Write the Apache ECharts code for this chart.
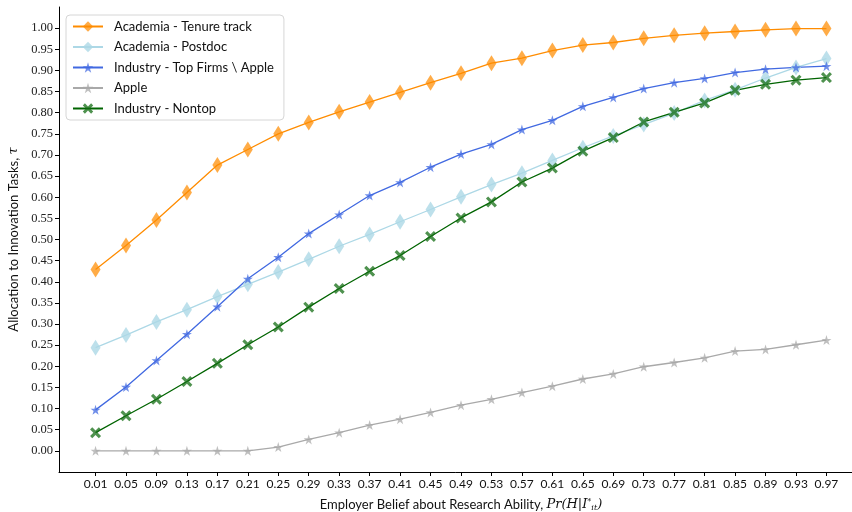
<!DOCTYPE html>
<html>
<head>
<meta charset="utf-8">
<script src="https://cdn.jsdelivr.net/npm/echarts@6/dist/echarts.min.js"></script>
<style>html,body{margin:0;padding:0;background:#fff}#c{width:852px;height:512px}</style>
</head>
<body>
<div id="c"></div>
<script>
const beliefs = [0.01,0.05,0.09,0.13,0.17,0.21,0.25,0.29,0.33,0.37,0.41,0.45,0.49,0.53,0.57,0.61,0.65,0.69,0.73,0.77,0.81,0.85,0.89,0.93,0.97];
const tenureTrack = [0.429,0.486,0.546,0.611,0.676,0.713,0.750,0.777,0.802,0.825,0.848,0.871,0.893,0.917,0.929,0.947,0.960,0.966,0.976,0.983,0.988,0.992,0.996,0.999,0.999];
const postdoc = [0.244,0.274,0.305,0.334,0.365,0.394,0.423,0.453,0.484,0.512,0.542,0.571,0.601,0.630,0.657,0.687,0.717,0.745,0.772,0.799,0.829,0.854,0.882,0.907,0.928];
const topFirms = [0.097,0.151,0.214,0.276,0.341,0.407,0.458,0.514,0.559,0.604,0.635,0.671,0.702,0.725,0.760,0.782,0.815,0.836,0.857,0.871,0.881,0.895,0.903,0.907,0.910];
const apple = [0,0,0,0,0,0,0.009,0.027,0.043,0.061,0.075,0.091,0.108,0.122,0.138,0.153,0.170,0.182,0.199,0.209,0.220,0.236,0.240,0.251,0.262];
const nontop = [0.043,0.083,0.122,0.164,0.207,0.251,0.293,0.340,0.384,0.425,0.462,0.507,0.551,0.589,0.636,0.669,0.709,0.741,0.778,0.801,0.823,0.853,0.867,0.877,0.883];
const xTickLabels = [0.01,0.05,0.09,0.13,0.17,0.21,0.25,0.29,0.33,0.37,0.41,0.45,0.49,0.53,0.57,0.61,0.65,0.69,0.73,0.77,0.81,0.85,0.89,0.93,0.97];
const yTickLabels = [0,0.05,0.10,0.15,0.20,0.25,0.30,0.35,0.40,0.45,0.50,0.55,0.60,0.65,0.70,0.75,0.80,0.85,0.90,0.95,1.00];

const STAR = 'path://M100,0 L122.45,69.1 L195.1,69.1 L136.3,111.8 L158.8,180.9 L100,138.2 L41.2,180.9 L63.7,111.8 L4.9,69.1 L77.55,69.1 Z';
const XMARK = 'path://M20,0 L50,30 L80,0 L100,20 L70,50 L100,80 L80,100 L50,70 L20,100 L0,80 L30,50 L0,20 Z';

function pairs(arr){ return beliefs.map((b,i)=>[b, arr[i]]); }

function mk(name, data, lineColor, markColor, symbol, size){
  return {
    name, type:'line', data: pairs(data),
    symbol, symbolSize: size, showSymbol:true,
    lineStyle:{color:lineColor, width:1.3},
    itemStyle:{color:markColor, borderWidth:0},
    emphasis:{disabled:true},
    animation:false
  };
}

const chart = echarts.init(document.getElementById('c'));
chart.setOption({
  backgroundColor:'#fff',
  animation:false,
  grid:{left:59, top:7, width:804, height:465, containLabel:false, outerBoundsMode:'none'},
  legend:{
    orient:'vertical', left:66, top:15,
    padding:[5,10,5,6],
    itemWidth:30, itemHeight:13, itemGap:7.5,
    backgroundColor:'rgba(255,255,255,0.85)',
    borderColor:'#d6d6d6', borderWidth:1, borderRadius:4,
    textStyle:{fontFamily:'Lato', fontSize:13, color:'#111', padding:[0,0,0,6]},
    data:['Academia - Tenure track','Academia - Postdoc','Industry - Top Firms \\ Apple','Apple','Industry - Nontop']
  },
  xAxis:{
    type:'value', min:-0.038, max:1.018,
    axisLine:{onZero:false, lineStyle:{color:'#000', width:1}},
    axisTick:{show:true, length:4, lineStyle:{color:'#000'}, customValues:xTickLabels},
    axisLabel:{customValues:xTickLabels, formatter:v=>v.toFixed(2), fontFamily:'Lato', fontSize:12, color:'#111', margin:6},
    splitLine:{show:false},
    name:'{t|Employer Belief about Research Ability, }{m|Pr(H|I}{sup|*}{sub|it}{m|)}',
    nameLocation:'middle', nameGap:26,
    nameTextStyle:{
      rich:{
        t:{fontFamily:'Lato', fontSize:13, color:'#111'},
        m:{fontFamily:'DejaVu Serif', fontStyle:'italic', fontSize:13, color:'#111'},
        sup:{fontFamily:'DejaVu Serif', fontSize:8, color:'#111', verticalAlign:'top', padding:[0,0,6,0]},
        sub:{fontFamily:'DejaVu Serif', fontStyle:'italic', fontSize:8, color:'#111', verticalAlign:'bottom', padding:[6,0,0,0]}
      }
    }
  },
  yAxis:{
    type:'value', min:-0.05, max:1.05,
    axisLine:{show:true, onZero:false, lineStyle:{color:'#000', width:1}},
    axisTick:{show:true, length:4, lineStyle:{color:'#000'}, customValues:yTickLabels},
    axisLabel:{customValues:yTickLabels, formatter:v=>v.toFixed(2), fontFamily:'Liberation Serif', fontSize:12.5, color:'#222', margin:6},
    splitLine:{show:false},
    name:'{t|Allocation to Innovation Tasks, }{m|τ}',
    nameLocation:'middle', nameGap:35, nameRotate:90,
    nameTextStyle:{
      rich:{
        t:{fontFamily:'Lato', fontSize:13, color:'#111'},
        m:{fontFamily:'DejaVu Serif', fontStyle:'italic', fontSize:13, color:'#111'}
      }
    }
  },
  series:[
    mk('Academia - Tenure track', tenureTrack, '#ff8c00', 'rgba(255,140,0,0.72)', 'diamond', [10,16]),
    mk('Academia - Postdoc', postdoc, '#add8e6', 'rgba(173,216,230,0.8)', 'diamond', [10,16]),
    mk('Industry - Top Firms \\ Apple', topFirms, '#4169e1', 'rgba(65,105,225,0.75)', STAR, 10),
    mk('Apple', apple, '#a9a9a9', 'rgba(169,169,169,0.75)', STAR, 10),
    mk('Industry - Nontop', nontop, '#006400', 'rgba(20,110,20,0.75)', XMARK, 11)
  ]
});
</script>
</body>
</html>
